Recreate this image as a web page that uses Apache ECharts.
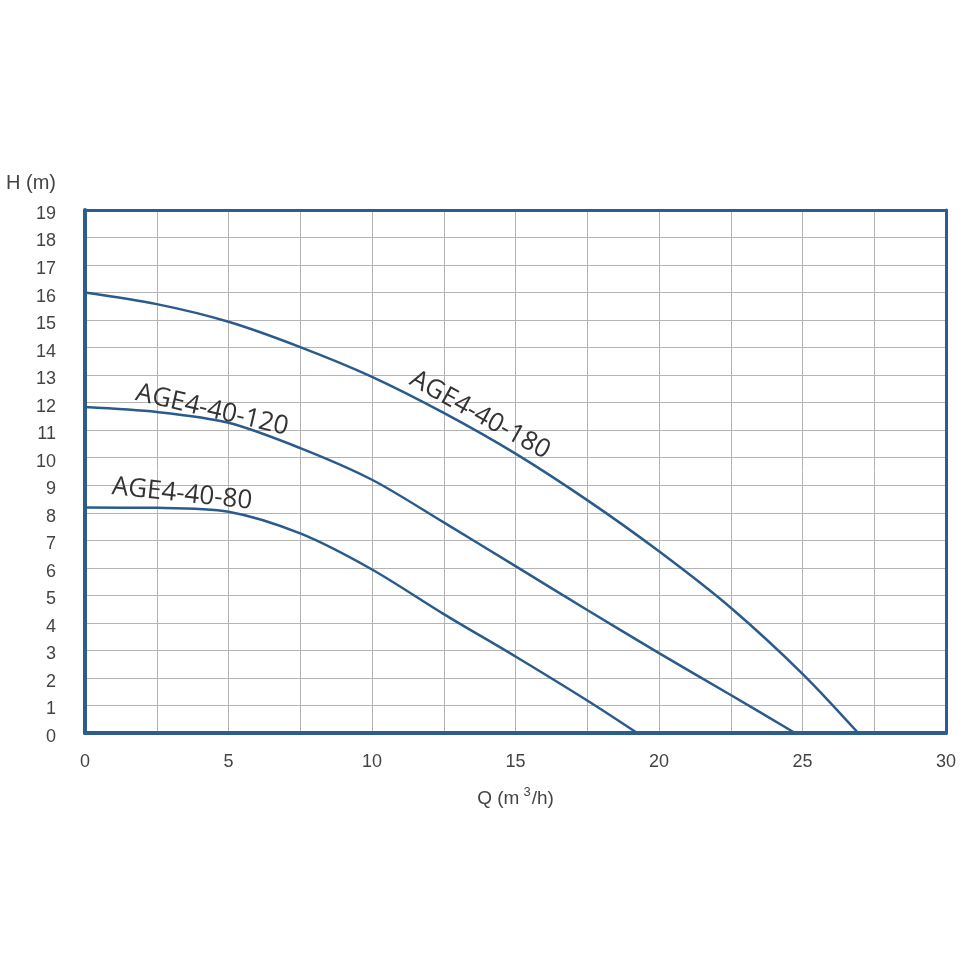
<!DOCTYPE html>
<html>
<head>
<meta charset="utf-8">
<script src="https://cdn.jsdelivr.net/npm/echarts@6/dist/echarts.min.js"></script>
<style>html,body{margin:0;padding:0;background:#fff}#c{width:960px;height:960px}</style>
</head>
<body>
<div id="c"></div>
<script>
// Flow Q (m3/h) and head H (m)
var q180 = [0, 2.5, 5, 7.5, 10, 12.5, 15, 17.5, 20, 22.5, 25, 26.94];
var h180 = [16.0, 15.58, 14.94, 14.02, 12.94, 11.63, 10.15, 8.46, 6.6, 4.55, 2.15, 0];
var q120 = [0, 2.5, 5, 7.5, 10, 12.5, 15, 17.5, 20, 22.5, 24.74];
var h120 = [11.84, 11.66, 11.27, 10.35, 9.2, 7.65, 6.06, 4.47, 2.9, 1.38, 0];
var q80 = [0, 2.5, 5, 7.5, 10, 12.5, 15, 17.5, 19.24];
var h80 = [8.19, 8.18, 8.04, 7.25, 5.94, 4.32, 2.78, 1.18, 0];
var names = ['AGE4-40-180', 'AGE4-40-120', 'AGE4-40-80'];
var labelQ = [13.76, 4.43, 3.38];
var labelH = [11.55, 11.73, 8.68];
var labelRot = [-29, -13, -6];
var yTicks = [0,1,2,3,4,5,6,7,8,9,10,11,12,13,14,15,16,17,18,19];
var xTicks = [0, 5, 10, 15, 20, 25, 30];

function zip(a, b) { return a.map(function (v, i) { return [v, b[i]]; }); }

var curveColor = '#2a5b8c';
var frameColor = '#2c5e8d';
var chart = echarts.init(document.getElementById('c'));
var qs = [q180, q120, q80], hs = [h180, h120, h80];
var series = names.map(function (n, i) {
  return {
    name: n,
    type: 'line',
    data: zip(qs[i], hs[i]),
    smooth: 0.3,
    showSymbol: false,
    z: 3,
    lineStyle: { color: curveColor, width: 2.5 },
    markPoint: {
      symbol: 'circle',
      symbolSize: 1,
      itemStyle: { color: 'rgba(0,0,0,0)' },
      data: [{ coord: [labelQ[i], labelH[i]], value: n }],
      label: {
        show: true,
        formatter: n,
        position: 'inside',
        rotate: labelRot[i],
        fontFamily: 'Open Sans',
        fontSize: 26,
        color: '#333'
      }
    }
  };
});

var tickFont = { fontFamily: 'Liberation Sans', fontSize: 18, color: '#444' };

chart.setOption({
  animation: false,
  grid: { left: 85, right: 14, top: 210, bottom: 227 },
  xAxis: [{
    type: 'value', min: 0, max: 30, interval: 2.5,
    axisLine: { show: true, onZero: false, lineStyle: { color: frameColor, width: 4 } },
    axisTick: { show: false },
    splitLine: { show: true, lineStyle: { color: '#b4b4b4', width: 1 } },
    axisLabel: Object.assign({
      margin: 20,
      formatter: function (v) { return xTicks.indexOf(v) >= 0 ? String(v) : ''; }
    }, tickFont),
    name: '{a|Q (m}{s|3}{a|/h)}',
    nameLocation: 'middle', nameGap: 53,
    nameTextStyle: {
      rich: {
        a: { fontFamily: 'Liberation Sans', fontSize: 19, color: '#444' },
        s: { fontFamily: 'Liberation Sans', fontSize: 13, color: '#444', verticalAlign: 'top', padding: [0, 1, 12, 4] }
      }
    }
  }, {
    type: 'value', min: 0, max: 30, position: 'top',
    axisLine: { show: true, onZero: false, lineStyle: { color: frameColor, width: 3 } },
    axisTick: { show: false }, axisLabel: { show: false }, splitLine: { show: false }
  }],
  yAxis: [{
    type: 'value', min: 0, max: 19, interval: 1,
    axisLine: { show: true, onZero: false, lineStyle: { color: frameColor, width: 4 } },
    axisTick: { show: false },
    splitLine: { show: true, lineStyle: { color: '#b4b4b4', width: 1 } },
    axisLabel: {
      margin: 29,
      formatter: function (v) { return yTicks.indexOf(v) >= 0 ? '{t|' + v + '}' : ''; },
      rich: { t: Object.assign({ padding: [8, 0, 0, 0] }, tickFont) }
    },
    name: 'H (m)',
    nameLocation: 'end', nameGap: 17,
    nameTextStyle: { fontFamily: 'Liberation Sans', fontSize: 20, color: '#444', align: 'right', padding: [0, 29, 0, 0] }
  }, {
    type: 'value', min: 0, max: 19, position: 'right',
    axisLine: { show: true, onZero: false, lineStyle: { color: frameColor, width: 3 } },
    axisTick: { show: false }, axisLabel: { show: false }, splitLine: { show: false }
  }],
  series: series
});
</script>
</body>
</html>
